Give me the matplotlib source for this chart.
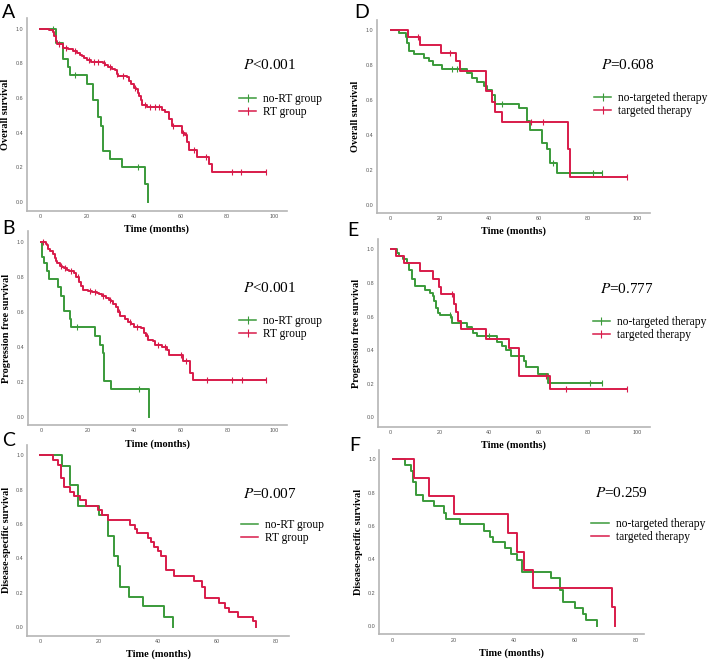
import matplotlib
matplotlib.use("Agg")
import matplotlib.pyplot as plt
from matplotlib.lines import Line2D
import numpy as np

plt.rcParams["mathtext.fontset"] = "stix"

GREEN = "#3a9a3a"
RED = "#d81b4a"
SPINE = "#b5b5b5"
SERIF = "Liberation Serif"

# ---- A: overall survival, RT vs no-RT ----
A_NORT_T = [0, 6.8, 10, 12, 12.8, 20, 22.8, 25, 26, 26.8, 30, 35, 45, 46.3]
A_NORT_S = [1.0, 0.915, 0.823, 0.776, 0.73, 0.68, 0.588, 0.487, 0.44, 0.295, 0.247, 0.2, 0.1, 0.0]
A_NORT_C = [5.7, 15, 42]
A_RT_T = [0, 4, 5.4, 6.2, 6.8, 7.3, 10, 12, 14, 16, 17, 18, 19, 20, 22, 24, 27, 28, 29, 31,
          32, 33, 33.5, 37, 38, 39, 40, 41, 42, 42.5, 43, 43.5, 45.6, 52, 53.5, 55.3, 56.3,
          60.5, 61.8, 62.8, 63.8, 67, 72.4, 73.4, 96.5]
A_RT_S = [1.0, 0.99, 0.98, 0.96, 0.93, 0.91, 0.89, 0.88, 0.87, 0.86, 0.85, 0.84, 0.83, 0.82,
          0.81, 0.805, 0.80, 0.79, 0.78, 0.77, 0.76, 0.74, 0.726, 0.72, 0.70, 0.68, 0.66, 0.65,
          0.63, 0.61, 0.59, 0.56, 0.545, 0.53, 0.52, 0.48, 0.437, 0.40, 0.385, 0.347, 0.30,
          0.26, 0.218, 0.173, 0.173]
A_RT_C = [8, 11, 15, 21, 23, 25, 27.5, 30, 33, 35.5, 40.5, 45, 47, 49, 51, 57, 61, 62.5, 66,
          71, 82, 86, 96.5]

# ---- B: progression free survival, RT vs no-RT ----
B_NORT_T = [0, 0.3, 1.5, 2.5, 3.5, 7.5, 8.5, 10, 12.3, 13, 23, 25.5, 26.5, 27, 30, 46.5]
B_NORT_S = [1.0, 0.916, 0.88, 0.834, 0.788, 0.74, 0.69, 0.607, 0.561, 0.51, 0.46, 0.41,
            0.363, 0.206, 0.158, 0.0]
B_NORT_C = [15.5, 42]
B_RT_T = [0, 2, 2.5, 3, 4, 5, 6, 6.5, 7, 8, 9, 10, 11, 12, 14, 15, 16.5, 17, 18, 20, 22, 24,
          25, 26, 28, 29, 30, 31, 32, 33, 34, 36, 37.5, 38.5, 40, 43, 44, 45, 46, 48, 49, 52,
          54, 55, 61, 64, 65, 96.5]
B_RT_S = [1.0, 0.99, 0.98, 0.96, 0.95, 0.93, 0.91, 0.89, 0.88, 0.86, 0.855, 0.85, 0.84,
          0.834, 0.82, 0.80, 0.77, 0.75, 0.725, 0.72, 0.715, 0.71, 0.70, 0.69, 0.68, 0.67,
          0.66, 0.645, 0.63, 0.60, 0.573, 0.56, 0.54, 0.53, 0.515, 0.505, 0.48, 0.46, 0.44,
          0.43, 0.41, 0.40, 0.38, 0.355, 0.32, 0.25, 0.21, 0.21]
B_RT_C = [1, 8.5, 10.5, 13, 16, 21, 23, 26.5, 29.5, 33.5, 38, 41, 45.5, 50, 53, 60, 62, 71,
          82, 86, 96.5]

# ---- C: disease-specific survival, RT vs no-RT ----
C_NORT_T = [0, 7.3, 10, 12.7, 20, 23, 25.2, 26.3, 27.2, 30.3, 35, 42, 45]
C_NORT_S = [1.0, 0.94, 0.826, 0.707, 0.65, 0.53, 0.413, 0.355, 0.236, 0.178, 0.12, 0.06, 0.0]
C_RT_T = [0, 4.5, 6, 7, 8, 10, 11.5, 13.5, 15.5, 19.5, 21, 23, 30.5, 32, 33, 36.5, 37.5,
          38.5, 40, 41, 42.5, 45.5, 52, 55, 56, 60.5, 62.5, 64, 67, 72, 73]
C_RT_S = [1.0, 0.97, 0.945, 0.866, 0.816, 0.789, 0.764, 0.738, 0.707, 0.682, 0.653, 0.622,
          0.597, 0.57, 0.545, 0.52, 0.494, 0.465, 0.44, 0.413, 0.33, 0.30, 0.27, 0.232,
          0.169, 0.14, 0.114, 0.087, 0.06, 0.033, 0.0]

# ---- D: overall survival, targeted therapy ----
D_NOTT_T = [0, 3.5, 6, 6.7, 7.5, 9.5, 13.5, 15.5, 17, 21, 31, 33, 35, 38, 39, 41, 42.5, 52,
            55.5, 56.5, 61.5, 63.5, 64.5, 67.5, 86]
D_NOTT_S = [1.0, 0.98, 0.958, 0.924, 0.88, 0.86, 0.838, 0.82, 0.80, 0.775, 0.756, 0.724,
            0.705, 0.68, 0.657, 0.627, 0.577, 0.552, 0.48, 0.43, 0.356, 0.32, 0.24, 0.18, 0.18]
D_NOTT_C = [25, 27, 45, 66, 82, 86]
D_TT_T = [0, 7, 12, 20.5, 26.5, 28, 38.5, 41, 42.5, 45, 72, 73, 96]
D_TT_S = [1.0, 0.96, 0.914, 0.869, 0.82, 0.768, 0.653, 0.59, 0.533, 0.472, 0.32, 0.162, 0.162]
D_TT_C = [11, 24, 57, 62, 96]

# ---- E: progression free survival, targeted therapy ----
E_NOTT_T = [0, 2.5, 3.5, 5, 6.5, 7.5, 8.5, 10, 14, 16, 17, 17.5, 18.5, 19, 20, 24.5, 25, 31,
            33, 33.5, 35, 43, 45, 47, 49, 54, 55, 60, 64, 86]
E_NOTT_S = [1.0, 0.98, 0.96, 0.94, 0.92, 0.88, 0.823, 0.78, 0.76, 0.74, 0.72, 0.69, 0.65,
            0.62, 0.61, 0.595, 0.563, 0.54, 0.524, 0.50, 0.484, 0.45, 0.425, 0.40, 0.365,
            0.337, 0.30, 0.258, 0.206, 0.206]
E_NOTT_C = [24, 28, 40, 81, 86]
E_TT_T = [0, 2, 5.5, 12, 17, 19.5, 20.5, 25.5, 26.5, 27.5, 28.5, 38.5, 48, 52, 64.5, 96]
E_TT_S = [1.0, 0.96, 0.92, 0.87, 0.825, 0.778, 0.734, 0.675, 0.629, 0.573, 0.524, 0.464,
          0.41, 0.246, 0.167, 0.167]
E_TT_C = [25, 63, 71, 96]

# ---- F: disease-specific survival, targeted therapy ----
F_NOTT_T = [0, 4, 6, 6.8, 7.5, 9.8, 13.5, 17, 17.6, 22, 30, 32, 33, 37, 39, 41, 42.5, 52,
            55, 56, 60, 62.5, 63.5, 67]
F_NOTT_S = [1.0, 0.964, 0.928, 0.862, 0.788, 0.752, 0.718, 0.68, 0.642, 0.61, 0.57, 0.536,
            0.502, 0.466, 0.432, 0.396, 0.324, 0.286, 0.216, 0.146, 0.11, 0.074, 0.038, 0.0]
F_TT_T = [0, 7, 12, 20, 38, 41, 43, 46, 72, 73]
F_TT_S = [1.0, 0.89, 0.78, 0.67, 0.556, 0.446, 0.334, 0.226, 0.114, 0.0]

RT_LABELS = ["no-RT group", "RT group"]
TT_LABELS = ["no-targeted therapy", "targeted therapy"]

W, H = 709, 660


def px_box(l, r, t, b):
    return [l / W, 1 - b / H, (r - l) / W, (b - t) / H]


def km(ax, t, s, cens, color):
    ax.step(t, s, where="post", color=color, lw=1.4)
    if cens:
        idx = np.searchsorted(t, cens, side="right") - 1
        ax.plot(cens, np.asarray(s)[idx], ls="none", marker="|", ms=4,
                mew=0.8, color=color)


def panel(box, letter, letter_xy, xlim, ylim, xmax, ylabel, curves, labels,
          pval, pxy, legxy, censored):
    ax = fig.add_axes(px_box(*box))
    ax.patch.set_alpha(0)
    for t, s, c, col in curves:
        km(ax, t, s, c, col)
    ax.set_xlim(*xlim)
    ax.set_ylim(*ylim)
    ax.set_xticks(np.arange(0, xmax + 1, 20))
    ax.set_yticks(np.arange(0, 1.01, 0.2))
    ax.set_yticklabels([f"{v:.1f}" for v in np.arange(0, 1.01, 0.2)])
    ax.tick_params(length=0, labelsize=3.9, labelcolor="#555555", pad=2.5)
    for lab in ax.get_xticklabels() + ax.get_yticklabels():
        lab.set_family("Liberation Sans")
    for sp in ("top", "right"):
        ax.spines[sp].set_visible(False)
    for sp in ("left", "bottom"):
        ax.spines[sp].set_color(SPINE)
        ax.spines[sp].set_linewidth(1.2)
    ax.set_ylabel(ylabel, family=SERIF, fontweight="bold", fontsize=7.4, labelpad=4)
    ax.set_xlabel("Time (months)", family=SERIF, fontweight="bold", fontsize=7.4,
                  labelpad=4)
    ax.text(pxy[0], pxy[1], pval, transform=ax.transAxes, family=SERIF, fontsize=11,
            ha="left", va="center")
    mk = "|" if censored else None
    handles = [Line2D([], [], color=GREEN, lw=1.1, marker=mk, ms=6, mew=0.8),
               Line2D([], [], color=RED, lw=1.1, marker=mk, ms=6, mew=0.8)]
    ax.legend(handles, labels, loc="upper left", bbox_to_anchor=legxy,
              frameon=False, prop={"family": SERIF, "size": 8.3},
              handlelength=1.5, handletextpad=0.6, labelspacing=0.12,
              borderpad=0, borderaxespad=0)
    fig.text(letter_xy[0] / W, 1 - letter_xy[1] / H, letter, family="Lato",
             fontsize=14, ha="left", va="top")
    return ax


fig = plt.figure(figsize=(W / 100, H / 100), dpi=100)

panel((27, 287, 18, 210.7), "A", (2, 4), (-5.5, 105.5), (-0.052, 1.062), 100,
      "Overall survival",
      [(A_NORT_T, A_NORT_S, A_NORT_C, GREEN), (A_RT_T, A_RT_S, A_RT_C, RED)],
      RT_LABELS, "$P$<0.001", (0.83, 0.756), (0.815, 0.612), True)
panel((28, 287, 231, 425), "B", (2, 220), (-5.5, 105.5), (-0.048, 1.062), 100,
      "Progression free survival",
      [(B_NORT_T, B_NORT_S, B_NORT_C, GREEN), (B_RT_T, B_RT_S, B_RT_C, RED)],
      RT_LABELS, "$P$<0.001", (0.83, 0.706), (0.815, 0.567), True)
panel((27.3, 289, 444.6, 635.7), "C", (2, 432), (-4.3, 84.3), (-0.05, 1.062), 80,
      "Disease-specific survival",
      [(C_NORT_T, C_NORT_S, None, GREEN), (C_RT_T, C_RT_S, None, RED)],
      RT_LABELS, "$P$=0.007", (0.825, 0.742), (0.817, 0.612), False)
panel((376.7, 650, 20, 212.7), "D", (354, 4), (-5.7, 105.3), (-0.044, 1.057), 100,
      "Overall survival",
      [(D_NOTT_T, D_NOTT_S, D_NOTT_C, GREEN), (D_TT_T, D_TT_S, D_TT_C, RED)],
      TT_LABELS, "$P$=0.608", (0.82, 0.766), (0.795, 0.628), True)
panel((377.7, 650, 239.3, 426.7), "E", (347, 222), (-5.3, 105.3), (-0.056, 1.06), 100,
      "Progression free survival",
      [(E_NOTT_T, E_NOTT_S, E_NOTT_C, GREEN), (E_TT_T, E_TT_S, E_TT_C, RED)],
      TT_LABELS, "$P$=0.777", (0.815, 0.735), (0.79, 0.592), True)
panel((379.3, 644.3, 450, 634.3), "F", (349, 437), (-4.4, 82.7), (-0.05, 1.056), 80,
      "Disease-specific survival",
      [(F_NOTT_T, F_NOTT_S, None, GREEN), (F_TT_T, F_TT_S, None, RED)],
      TT_LABELS, "$P$=0.259", (0.815, 0.767), (0.8, 0.632), False)

fig.savefig("out.png", dpi=100)
